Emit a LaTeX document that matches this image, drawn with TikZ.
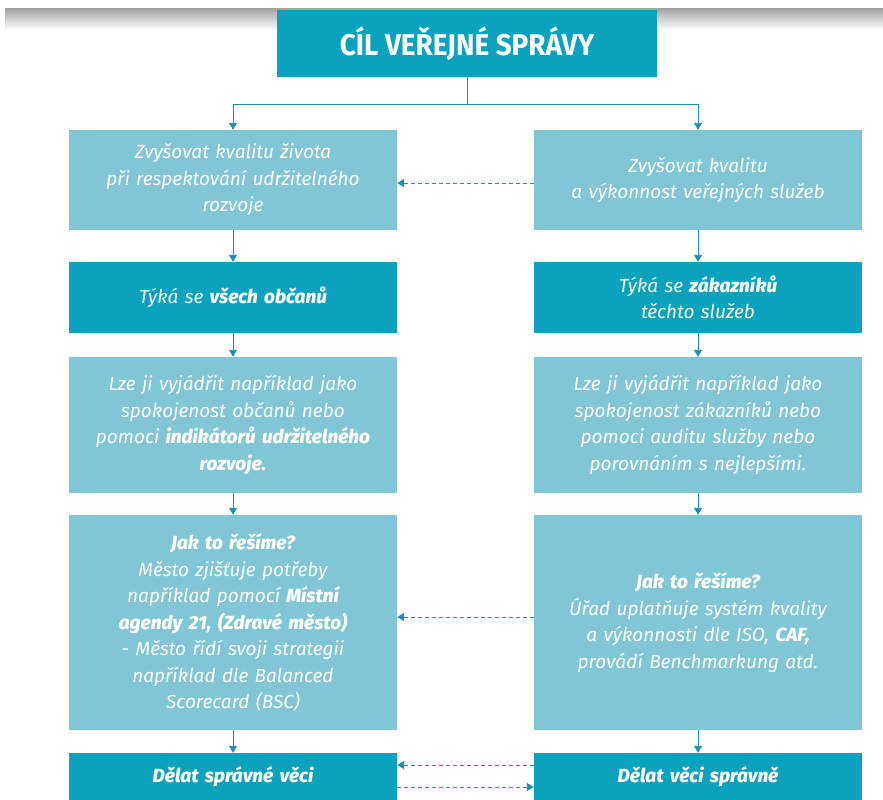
\documentclass[tikz,border=0pt]{standalone}
\usepackage{fontspec}
\setmainfont{Fira Sans}[BoldItalicFont={Fira Sans ExtraBold Italic}]
\usetikzlibrary{arrows.meta,positioning}
\definecolor{tealdark}{HTML}{0AA2BC}
\definecolor{teallight}{HTML}{80C6D7}
\definecolor{tealline}{HTML}{1B90AA}
\tikzset{
  x=1pt, y=-1pt,
  lightbox/.style={fill=teallight, draw=none, minimum width=328pt, text width=320pt,
    align=center, inner sep=0pt, text=white, font=\fontsize{19}{26.5}\selectfont\itshape},
  darkbox/.style={lightbox, fill=tealdark},
  titlebox/.style={fill=tealdark, minimum width=380pt, minimum height=67pt, inner sep=0pt,
    text=white, font=\fontsize{30}{32}\selectfont\bfseries},
  link/.style={draw=tealline, line width=0.9pt, -{Triangle[width=8pt,length=7pt]}},
  dashlink/.style={link, dashed, dash pattern=on 4pt off 3pt}
}
\begin{document}
\begin{tikzpicture}
\useasboundingbox (0,0) rectangle (883,800);
\fill[white] (0,0) rectangle (883,800);
% soft grey band across the top
\shade[top color=black!35, bottom color=white] (5,9) rectangle (883,30);

\node[titlebox] (t) at (467,43.5) {\scalebox{0.93}[1]{CÍL VEŘEJNÉ SPRÁVY}};

% left column
\node[lightbox, minimum height=100pt] (l1) at (233,180)
  {Zvyšovat kvalitu života\\ při respektování udržitelného\\ rozvoje};
\node[darkbox, minimum height=71pt] (l2) at (233,297.5)
  {Týká se \textbf{všech občanů}};
\node[lightbox, minimum height=136pt] (l3) at (233,425)
  {Lze ji vyjádřit například jako\\ spokojenost občanů nebo\\ pomoci \textbf{indikátorů udržitelného}\\ \textbf{rozvoje.}};
\node[lightbox, minimum height=215pt] (l4) at (233,622.5)
  {\textbf{Jak to řešíme?}\\ Město zjišťuje potřeby\\ například pomocí \textbf{Místní}\\ \textbf{agendy 21, (Zdravé město)}\\ - Město řídí svoji strategii\\ například dle Balanced\\ Scorecard (BSC)};
\node[darkbox, minimum height=47pt] (l5) at (233,776.5)
  {\textbf{Dělat správné věci}};

% right column
\node[lightbox, minimum height=100pt] (r1) at (698,180)
  {Zvyšovat kvalitu\\ a výkonnost veřejných služeb};
\node[darkbox, minimum height=71pt] (r2) at (698,297.5)
  {Týká se \textbf{zákazníků}\\ těchto služeb};
\node[lightbox, minimum height=136pt] (r3) at (698,425)
  {Lze ji vyjádřit například jako\\ spokojenost zákazníků nebo\\ pomoci auditu služby nebo\\ porovnáním s nejlepšími.};
\node[lightbox, minimum height=215pt] (r4) at (698,622.5)
  {\textbf{Jak to řešíme?}\\ Úřad uplatňuje systém kvality\\ a výkonnosti dle ISO, \textbf{CAF,}\\ provádí Benchmarkung atd.};
\node[darkbox, minimum height=47pt] (r5) at (698,776.5)
  {\textbf{Dělat věci správně}};

% split from the title
\coordinate (split) at (467,104);
\draw[draw=tealline, line width=0.9pt] (t.south) -- (split);
\draw[link] (split) -| (l1.north);
\draw[link] (split) -| (r1.north);

% vertical flow
\foreach \a/\b in {l1/l2,l2/l3,l3/l4,l4/l5,r1/r2,r2/r3,r3/r4,r4/r5}
  \draw[link] (\a.south) -- (\b.north);

% cross links
\draw[dashlink] ([yshift=-3pt]r1.west) -- ([yshift=-3pt]l1.east);
\draw[dashlink] ([yshift=5.5pt]r4.west) -- ([yshift=5.5pt]l4.east);
\draw[dashlink] ([yshift=11.5pt]r5.west) -- ([yshift=11.5pt]l5.east);
\draw[dashlink] ([yshift=-10.5pt]l5.east) -- ([yshift=-10.5pt]r5.west);
\end{tikzpicture}
\end{document}
